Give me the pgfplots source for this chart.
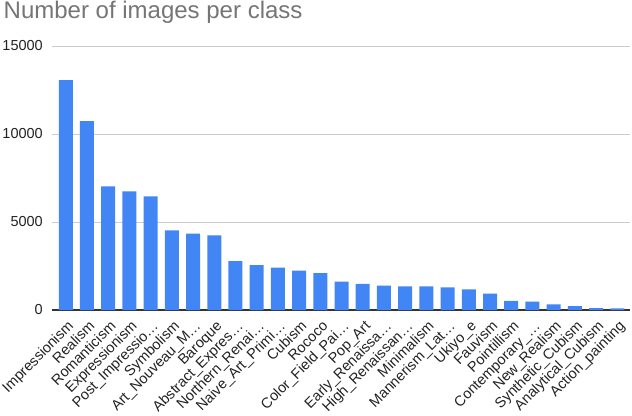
\documentclass[border=0pt]{standalone}
\usepackage{fontspec}
\setmainfont{Liberation Sans}
\usepackage{pgfplots}
\pgfplotsset{compat=1.18}
\definecolor{barblue}{HTML}{4285F4}
\definecolor{gridgray}{HTML}{CCCCCC}
\definecolor{axisgray}{HTML}{333333}
\definecolor{titlegray}{HTML}{757575}
\definecolor{labelgray}{HTML}{222222}
\begin{document}
\begin{tikzpicture}
    \begin{axis}[
            scale only axis,
            width = 578bp,
            height = 264bp,
            at = {(0,0)},
            anchor = south west,
            xmin = -0.65,
            xmax = 26.6,
            ymin = 0,
            ymax = 15000,
            ybar,
            bar width = 14bp,
            xtick = {0,...,26},
            xticklabels = {Impressionism, Realism, Romanticism, Expressionism,
                    Post\_Impressio…, Symbolism, Art\_Nouveau\_M…, Baroque,
                    Abstract\_Expres…, Northern\_Renai…, Naive\_Art\_Primi…,
                    Cubism, Rococo, Color\_Field\_Pai…, Pop\_Art,
                    Early\_Renaissa…, High\_Renaissan…, Minimalism,
                    Mannerism\_Lat…, Ukiyo\_e, Fauvism, Pointillism,
                    Contemporary\_…, New\_Realism, Synthetic\_Cubism,
                    Analytical\_Cubism, Action\_painting},
            ytick = {0,5000,10000,15000},
            scaled y ticks = false,
            /pgf/number format/assume math mode = true,
            yticklabel style = {/pgf/number format/fixed,
                    /pgf/number format/1000 sep = {},
                    font = \fontsize{14.5bp}{16bp}\selectfont,
                    text = labelgray, inner sep = 0pt, xshift = -9bp},
            xticklabel style = {inner sep = 0pt,
                    xshift = 8.5bp, yshift = -17bp,
                    rotate = 45, anchor = base east,
                    font = \fontsize{14.5bp}{16bp}\selectfont,
                    text = labelgray},
            major tick length = 0pt,
            axis x line* = bottom,
            axis y line* = left,
            x axis line style = {-, draw = axisgray, line width = 1.3bp},
            y axis line style = {draw = none},
            ymajorgrids,
            grid style = {draw = gridgray, line width = 0.8bp},
            title = {Number of images per class},
            title style = {at = {(0,1)}, anchor = base west,
                    xshift = -48.5bp, yshift = 21.7bp,
                    font = \fontsize{24bp}{28bp}\selectfont,
                    text = titlegray, inner sep = 0pt},
        ]
        \addplot [fill = barblue, draw = none]
        coordinates {
                (0, 13060)
                (1, 10733)
                (2, 7019)
                (3, 6736)
                (4, 6450)
                (5, 4528)
                (6, 4334)
                (7, 4240)
                (8, 2782)
                (9, 2552)
                (10, 2405)
                (11, 2235)
                (12, 2089)
                (13, 1615)
                (14, 1483)
                (15, 1391)
                (16, 1343)
                (17, 1337)
                (18, 1279)
                (19, 1167)
                (20, 934)
                (21, 513)
                (22, 481)
                (23, 314)
                (24, 216)
                (25, 110)
                (26, 98)
            };
    \end{axis}
    \path [use as bounding box] (-52bp,-106bp) rectangle (580bp,310bp);
\end{tikzpicture}
\end{document}
